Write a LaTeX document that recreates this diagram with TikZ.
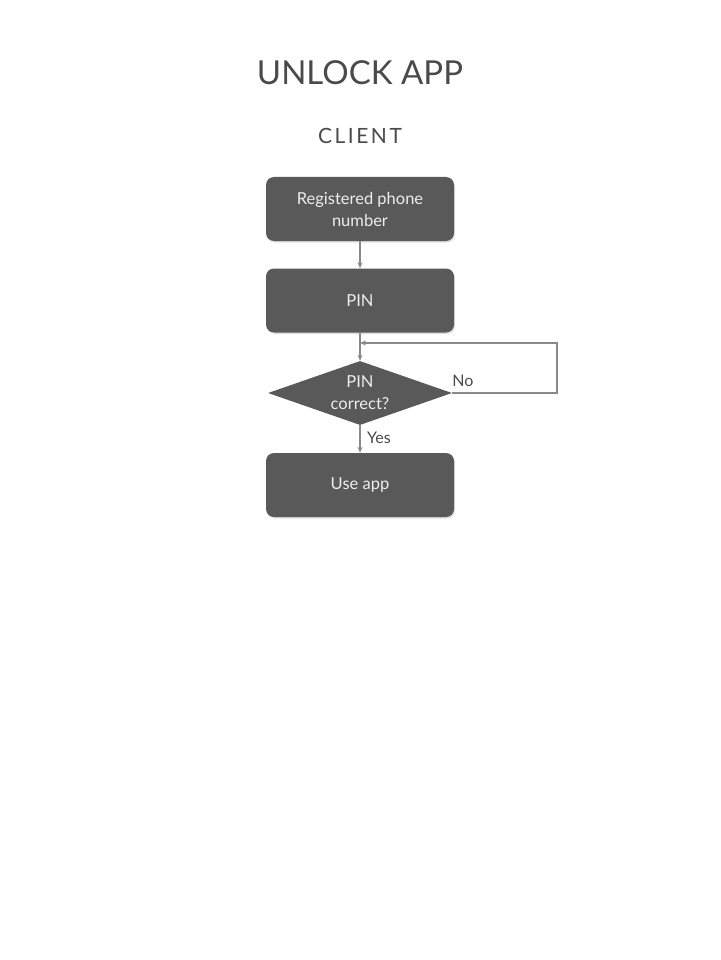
\documentclass[tikz,border=0pt]{standalone}
\usepackage{fontspec}
\setmainfont{Lato}
\usetikzlibrary{shapes.geometric,arrows.meta,shadows}
\definecolor{boxfill}{HTML}{595959}
\definecolor{linec}{HTML}{8A8A8A}
\definecolor{titlec}{HTML}{4A4A4A}
\begin{document}
\begin{tikzpicture}[x=1pt,y=-1pt,
  box/.style={draw=none,fill=boxfill,rounded corners=8pt,minimum width=188pt,minimum height=64pt,
    text=white!93!black,align=center,font=\fontsize{16.5}{22}\selectfont,
    drop shadow={shadow xshift=1pt,shadow yshift=-1.5pt,opacity=0.25}},
  decision/.style={diamond,draw=none,fill=boxfill,minimum width=184pt,minimum height=64pt,aspect=2.875,inner sep=0pt,
    text=white!93!black,align=center,font=\fontsize{16.5}{22}\selectfont},
  conn/.style={draw=linec,line width=1.1pt,-{Stealth[length=6pt,width=5pt]}},
  lbl/.style={text=titlec,font=\fontsize{16}{18}\selectfont}]
\useasboundingbox (0,0) rectangle (720,960);
\node[text=titlec,font=\fontsize{33}{40}\selectfont] (title) at (360,73) {UNLOCK APP};
\node[text=titlec,font=\fontsize{21}{26}\selectfont\addfontfeature{LetterSpace=12}] (client) at (360,136) {CLIENT};
\node[box] (reg) at (360,209) {Registered phone\\number};
\node[box] (pin) at (360,300.5) {PIN};
\node[decision] (dec) at (360,393) {PIN\\correct?};
\node[box] (use) at (360,485) {Use app};
\coordinate (loopj) at (360,343);
\draw[conn] (reg.south) -- (pin.north);
\draw[conn] (pin.south) -- (dec.north);
\draw[conn] (dec.east) -- (557,393) -- (557,343) -- (loopj);
\draw[conn] (dec.south) -- (use.north);
\node[lbl] (no) at (463,381) {No};
\node[lbl] (yes) at (379,438) {Yes};
\end{tikzpicture}
\end{document}
